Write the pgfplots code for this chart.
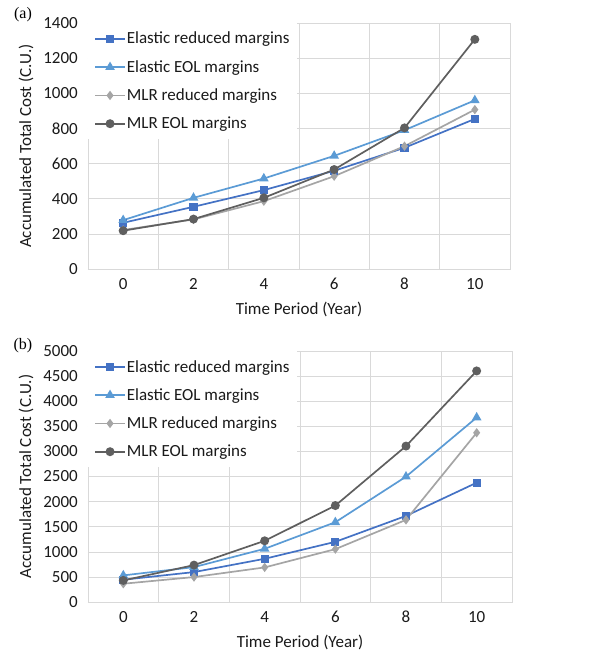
\documentclass[border=0pt]{standalone}
\usepackage{pgfplots}
\pgfplotsset{compat=1.18}
\usepackage{fontspec}
\setmainfont{Carlito}
\newfontfamily\serifa{Liberation Serif}

\definecolor{cER}{HTML}{4472C4}
\definecolor{cEE}{HTML}{5B9BD5}
\definecolor{cMR}{HTML}{A5A5A5}
\definecolor{cME}{HTML}{5F5F5F}
\definecolor{gridc}{HTML}{D9D9D9}
\definecolor{txt}{HTML}{1A1A1A}

\pgfplotsset{
  costplot/.style={
    scale only axis,
    anchor=south west,
    xmin=-1, xmax=11,
    xtick={0,2,4,6,8,10},
    minor xtick={-1,1,3,5,7,9,11},
    xminorgrids=true, ymajorgrids=true,
    grid style={gridc, line width=0.6pt},
    minor grid style={gridc, line width=0.6pt},
    axis line style={gridc, line width=0.6pt},
    major tick length=0pt, minor tick length=0pt,
    tick label style={font=\fontsize{17}{20}\selectfont, text=txt},
    /pgf/number format/assume math mode=true,
    /pgf/number format/1000 sep={},
    yticklabel style={inner sep=0pt, xshift=-10pt, anchor=east},
    xticklabel style={inner sep=0pt, yshift=-9pt, anchor=north},
    every axis x label/.style={at={(axis description cs:0.5,0)}, anchor=center, yshift=-40pt, font=\fontsize{17}{20}\selectfont, text=txt},
    every axis y label/.style={at={(axis description cs:0,0.5)}, xshift=-62pt, rotate=90, anchor=center, font=\fontsize{17}{20}\selectfont, text=txt},
    xlabel={Time Period (Year)},
    ylabel={Accumulated Total Cost (C.U.)},
    legend style={at={(0,1)}, anchor=north west, draw=none, fill=white,
      font=\fontsize{17}{20}\selectfont, text=txt,
      inner xsep=6pt, inner ysep=8pt, row sep=13pt,
      nodes={inner sep=1pt}},
    legend cell align=left,
    legend image code/.code={\draw[#1, mark repeat=2, mark phase=2] plot coordinates {(0pt,0pt) (15pt,0pt) (30pt,0pt)};},
  },
  sER/.style={cER, line width=1.7pt, mark=square*, mark size=3.3pt, mark options={solid, fill=cER, draw=cER}},
  sEE/.style={cEE, line width=1.7pt, mark=triangle*, mark size=3.9pt, mark options={solid, fill=cEE, draw=cEE}},
  sMR/.style={cMR, line width=1.7pt, mark=diamond*, mark size=3.3pt, mark options={solid, fill=cMR, draw=cMR}},
  sME/.style={cME, line width=1.7pt, mark=*, mark size=3.6pt, mark options={solid, fill=cME, draw=cME}},
}

\begin{document}
\begin{tikzpicture}
\path[use as bounding box] (-88pt,269pt) rectangle (505pt,-383pt);

% (a)
\begin{axis}[costplot, at={(0pt,0pt)}, width=422pt, height=246pt,
  ymin=0, ymax=1400, ytick={0,200,...,1400}]
\addplot[sER] coordinates {(0,263) (2,354) (4,449) (6,559) (8,690) (10,854)};
\addlegendentry{Elastic reduced margins}
\addplot[sEE] coordinates {(0,278) (2,405) (4,515) (6,644) (8,790) (10,960)};
\addlegendentry{Elastic EOL margins}
\addplot[sMR] coordinates {(0,222) (2,282) (4,386) (6,528) (8,699) (10,907)};
\addlegendentry{MLR reduced margins}
\addplot[sME] coordinates {(0,218) (2,284) (4,405) (6,566) (8,803) (10,1307)};
\addlegendentry{MLR EOL margins}
\end{axis}

% (b)
\begin{axis}[costplot, at={(0pt,-333pt)}, width=424pt, height=251pt,
  ymin=0, ymax=5000, ytick={0,500,...,5000}]
\addplot[sER] coordinates {(0,444) (2,596) (4,861) (6,1199) (8,1715) (10,2377)};
\addlegendentry{Elastic reduced margins}
\addplot[sEE] coordinates {(0,530) (2,695) (4,1060) (6,1589) (8,2497) (10,3675)};
\addlegendentry{Elastic EOL margins}
\addplot[sMR] coordinates {(0,364) (2,497) (4,689) (6,1053) (8,1636) (10,3371)};
\addlegendentry{MLR reduced margins}
\addplot[sME] coordinates {(0,430) (2,735) (4,1219) (6,1921) (8,3106) (10,4603)};
\addlegendentry{MLR EOL margins}
\end{axis}

\node[font=\serifa\fontsize{16}{18}\selectfont] at (-65pt,254pt) {(a)};
\node[font=\serifa\fontsize{16}{18}\selectfont] at (-65pt,-77pt) {(b)};
\end{tikzpicture}
\end{document}
